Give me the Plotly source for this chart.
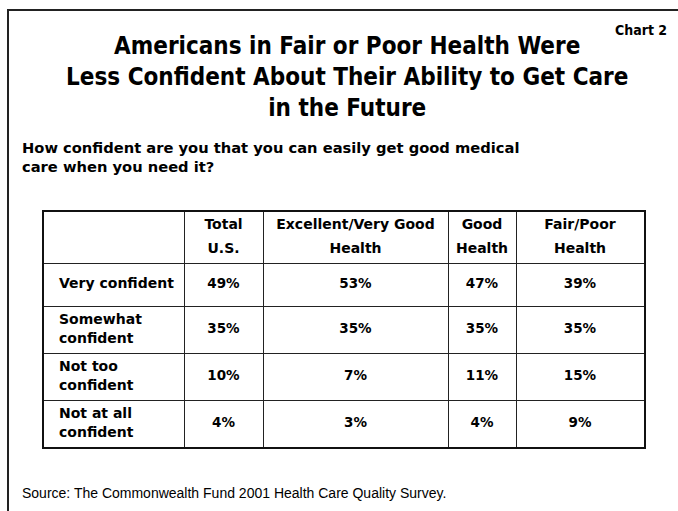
import plotly.graph_objects as go
from itertools import accumulate

W, H = 678, 511

# ---------------- data ----------------
row_labels = ["Very confident", "Somewhat<br>confident", "Not too<br>confident", "Not at all<br>confident"]
col_headers = ["Total<br>U.S.", "Excellent/Very Good<br>Health", "Good<br>Health", "Fair/Poor<br>Health"]
total_us = [49, 35, 10, 4]
excellent_very_good = [53, 35, 7, 3]
good_health = [47, 35, 11, 4]
fair_poor = [39, 35, 15, 9]
columns = [total_us, excellent_very_good, good_health, fair_poor]

title_text = ("Americans in Fair or Poor Health Were<br>"
              "Less Confident About Their Ability to Get Care<br>in the Future")
question_text = "How confident are you that you can easily get good medical<br>care when you need it?"
source_text = "Source: The Commonwealth Fund 2001 Health Care Quality Survey."
chart_tag = "Chart 2"

# ---------------- layout / style ----------------
col_widths = [140, 79, 185, 68, 128]
row_heights = [51, 43, 47, 47, 47]
tbl_left, tbl_right, tbl_top, tbl_bottom = 44, 644, 212, 447
label_pad = 15
header_line_gap = 24
label_line_gap = 19

col_edges = [0] + list(accumulate(col_widths))
row_edges = [0] + list(accumulate(row_heights))
col_centers = [(a + b) / 2 for a, b in zip(col_edges[:-1], col_edges[1:])]
row_centers = [(a + b) / 2 for a, b in zip(row_edges[:-1], row_edges[1:])]

head_font = dict(family="DejaVu Sans", size=14, color="#000000", weight=700)
value_font = dict(family="DejaVu Sans", size=13.5, color="#000000", weight=700)


def split_lines(texts, xs, ys, gap):
    """Split multi-line texts into separate lines positioned around the cell centre."""
    ox, oy, ot = [], [], []
    for t, x, y in zip(texts, xs, ys):
        parts = t.split("<br>")
        n = len(parts)
        for k, p in enumerate(parts):
            ox.append(x)
            oy.append(y + (k - (n - 1) / 2) * gap)
            ot.append(p)
    return ox, oy, ot


fig = go.Figure()

# header texts
hx, hy, ht = split_lines(col_headers, col_centers[1:], [row_centers[0]] * len(col_headers), header_line_gap)
fig.add_trace(go.Scatter(x=hx, y=hy, text=ht, mode="text", textposition="middle center",
                         textfont=head_font, hoverinfo="skip", showlegend=False))

# row labels
lx, ly, lt = split_lines(row_labels, [label_pad] * len(row_labels), row_centers[1:], label_line_gap)
fig.add_trace(go.Scatter(x=lx, y=ly, text=lt, mode="text", textposition="middle right",
                         textfont=head_font, hoverinfo="skip", showlegend=False))

# values
for ci, vals in enumerate(columns):
    fig.add_trace(go.Scatter(
        x=[col_centers[ci + 1]] * len(vals), y=row_centers[1:],
        text=[f"{v}%" for v in vals], mode="text", textposition="middle center",
        textfont=value_font, hoverinfo="skip", showlegend=False))

axis_common = dict(showgrid=True, gridcolor="#222222", gridwidth=1.3,
                   showticklabels=False, ticks="", zeroline=False,
                   showline=True, mirror=True, linecolor="#111111", linewidth=2.2,
                   fixedrange=True)

fig.update_layout(
    width=W, height=H,
    margin=dict(l=0, r=0, t=0, b=0),
    paper_bgcolor="white", plot_bgcolor="white",
    xaxis=dict(range=[0, col_edges[-1]], tickvals=col_edges[1:-1],
               domain=[tbl_left / W, tbl_right / W], **axis_common),
    yaxis=dict(range=[row_edges[-1], 0], tickvals=row_edges[1:-1],
               domain=[1 - tbl_bottom / H, 1 - tbl_top / H], **axis_common),
    shapes=[
        dict(type="line", xref="paper", yref="paper", x0=7 / W, x1=1, y0=1 - 10 / H, y1=1 - 10 / H,
             line=dict(color="#222222", width=2)),
        dict(type="line", xref="paper", yref="paper", x0=8 / W, x1=8 / W, y0=1 - 9 / H, y1=0,
             line=dict(color="#222222", width=2)),
    ],
    annotations=[
        dict(text=title_text, xref="paper", yref="paper", x=347 / W, y=1 - 77 / H,
             xanchor="center", yanchor="middle", showarrow=False, align="center",
             font=dict(family="DejaVu Sans Condensed", size=24, color="#000000", weight=700)),
        dict(text=chart_tag, xref="paper", yref="paper", x=641 / W, y=1 - 30 / H,
             xanchor="center", yanchor="middle", showarrow=False,
             font=dict(family="DejaVu Sans Condensed", size=14, color="#000000", weight=700)),
        dict(text=question_text, xref="paper", yref="paper", x=20 / W, y=1 - 157 / H,
             xanchor="left", yanchor="middle", showarrow=False, align="left",
             font=dict(family="DejaVu Sans", size=14.7, color="#000000", weight=700)),
        dict(text=source_text, xref="paper", yref="paper", x=20 / W, y=1 - 493 / H,
             xanchor="left", yanchor="middle", showarrow=False, align="left",
             font=dict(family="Liberation Sans", size=14, color="#000000")),
    ],
)

fig.write_html("out.html")
